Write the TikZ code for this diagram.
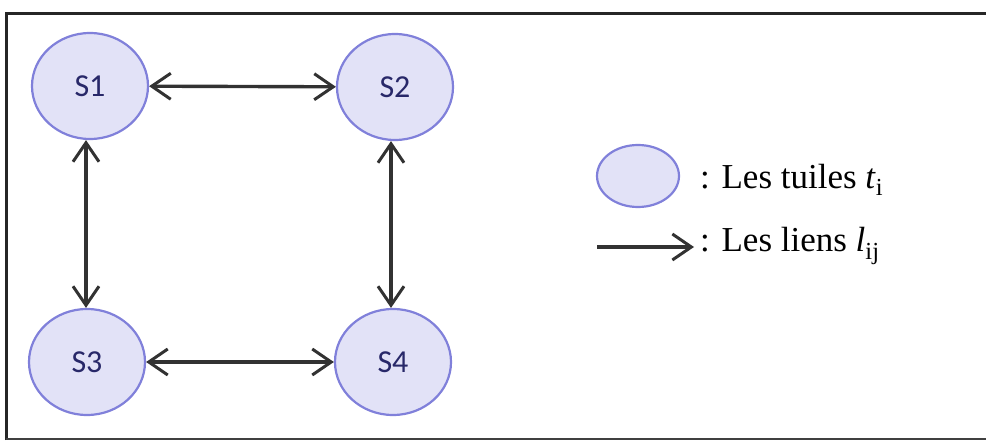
\documentclass[tikz,border=0pt]{standalone}
\usepackage{fontspec}
\setmainfont{Liberation Serif}
\newfontfamily\tilefont{Carlito}
\usetikzlibrary{arrows.meta, shapes.geometric}

\definecolor{tilefill}{RGB}{226,226,247}
\definecolor{tileedge}{RGB}{128,128,218}
\definecolor{tiletext}{RGB}{40,40,105}
\definecolor{linkgray}{RGB}{50,50,50}

\begin{document}
\begin{tikzpicture}[x=1pt, y=-1pt]
            \tikzset{tile/.style={ellipse, draw=tileedge, line width=2.2pt, fill=tilefill,
                                  minimum width=116pt, minimum height=106pt, inner sep=0pt,
                                  font=\tilefont\fontsize{32}{32}\selectfont, text=tiletext}}
            \tikzset{barb/.tip={Straight Barb[length=19pt, width=26pt, line width=3pt]}}
            \tikzset{link/.style={barb-barb, line width=3.4pt, linkgray}}
            \tikzset{legend/.style={anchor=west, font=\fontsize{35}{35}\selectfont, inner sep=0pt}}

            \useasboundingbox (0,0) rectangle (986,441);

            % Cadre
            \draw[line width=3pt, black!85] (6,440) -- (6,14) -- (995,14);
            \draw[line width=2.6pt, black!75] (6,439) -- (995,439);

            % Les tuiles
            \node[tile] (s1) at (90,86)  {S1};
            \node[tile] (s2) at (395,87) {S2};
            \node[tile] (s3) at (87,362) {S3};
            \node[tile] (s4) at (393,362) {S4};

            % Les liens
            \draw[link] (s1) -- (s2);
            \draw[link] (s3) -- (s4);
            \draw[link] (s1.south) ++(-4,0) coordinate (s1b) -- (s1b |- s3.north);
            \draw[link] (s2.south) ++(-4,0) coordinate (s2b) -- (s2b |- s4.north);

            % Legende
            \node[tile, minimum width=82pt, minimum height=62pt] (tkey) at (638,176) {};
            \node[legend] (tlabel) at (700,180) {: Les tuiles \textit{t}\textsubscript{i}};
            \coordinate (lkeya) at (597,247);
            \coordinate (lkeyb) at (694,247);
            \draw[line width=3.4pt, linkgray, -barb] (lkeya) -- (lkeyb);
            \node[legend] (llabel) at (700,246) {: Les liens \textit{l}\textsubscript{ij}};
        \end{tikzpicture}
\end{document}
